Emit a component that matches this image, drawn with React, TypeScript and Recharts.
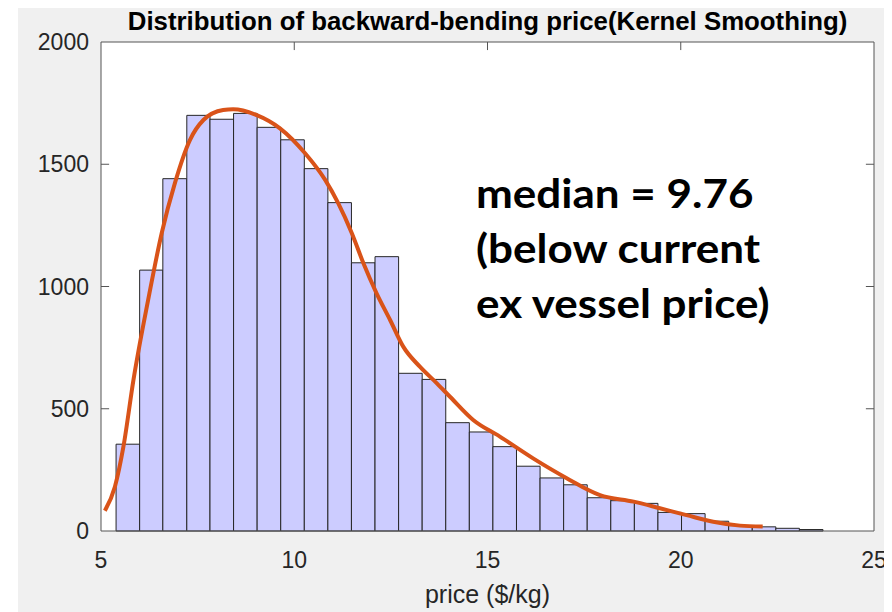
import React from "react";
import {
  ComposedChart, Line, XAxis, YAxis, ReferenceArea, ReferenceLine,
} from "recharts";

// histogram bin edges (price $/kg) and counts
const binEdges = [
  5.39, 6.0, 6.6, 7.22, 7.82, 8.43, 9.04, 9.65, 10.26, 10.87, 11.48, 12.09,
  12.7, 13.31, 13.92, 14.53, 15.14, 15.75, 16.36, 16.97, 17.58, 18.19, 18.8,
  19.41, 20.02, 20.63, 21.24, 21.85, 22.46, 23.07, 23.68,
];
const binCounts = [
  355, 1067, 1441, 1700, 1684, 1708, 1651, 1600, 1482, 1343, 1097, 1122,
  645, 620, 443, 405, 345, 265, 217, 189, 136, 124, 113, 76, 71, 40, 22, 17, 11, 6,
];

// kernel smoothing curve
const kdeX = [
  5.1, 5.36, 5.58, 5.84, 6.22, 6.57, 6.91, 7.3, 7.65, 8.16, 8.42, 9.03, 9.63,
  10.28, 10.8, 11.14, 11.49, 11.79, 12.13, 12.48, 12.82, 13.25, 13.69, 14.03,
  14.63, 15.32, 16.18, 17.05, 17.91, 18.78, 19.46, 20.15, 20.84, 21.53, 22.12,
];
const kdeY = [
  83, 181, 345, 618, 945, 1218, 1422, 1599, 1681, 1722, 1725, 1701, 1647,
  1545, 1436, 1340, 1218, 1095, 972, 863, 754, 672, 604, 549,
  454, 386, 297, 216, 147, 120, 93, 65, 38, 22, 18,
];

const xTicks = [5, 10, 15, 20, 25];
const yTicks = [0, 500, 1000, 1500, 2000];
const innerXTicks = [10, 15, 20];
const innerYTicks = [500, 1000, 1500];

const noteLines = ["median = 9.76", "(below current", "ex vessel price)"];

const X_MIN = 5, X_MAX = 25, Y_MIN = 0, Y_MAX = 2000;
// inward tick length in data units (~8px)
const TICK_DX = 0.21;
const TICK_DY = 33;

const AXIS = "#555555";
const TICK_TEXT = "#262626";
const FONT = "'Liberation Sans', Arial, sans-serif";

export default function App() {
  const kde = kdeX.map((x, i) => ({ x, y: kdeY[i] }));

  return (
    <div
      style={{
        position: "relative",
        width: 892,
        height: 612,
        margin: "-8px 0 0 -8px",
        background: "#f0f0f0",
        overflow: "hidden",
        fontFamily: FONT,
      }}
    >
      <div style={{ position: "absolute", left: 4, top: 0, width: 14, height: 612, background: "#fff" }} />
      {/* white plot box behind the transparent svg */}
      <div style={{ position: "absolute", left: 101, top: 42, width: 773, height: 489, background: "#fff" }} />

      <div style={{ position: "absolute", left: 0, top: 0 }}>
        <ComposedChart width={892} height={612} margin={{ top: 42, right: 18, bottom: 51, left: 41 }}>
          <XAxis
            type="number"
            dataKey="x"
            domain={[X_MIN, X_MAX]}
            ticks={xTicks}
            allowDataOverflow
            height={30}
            stroke={AXIS}
            tickLine={false}
            tickMargin={15}
            tick={{ fontSize: 23, fill: TICK_TEXT, fontFamily: FONT }}
          />
          <YAxis
            type="number"
            domain={[Y_MIN, Y_MAX]}
            ticks={yTicks}
            width={60}
            stroke={AXIS}
            tickLine={false}
            tickMargin={6}
            tick={{ fontSize: 23, fill: TICK_TEXT, fontFamily: FONT }}
          />

          {binCounts.map((c, i) => (
            <ReferenceArea
              key={i}
              x1={binEdges[i]}
              x2={binEdges[i + 1]}
              y1={0}
              y2={c}
              fill="#ccccff"
              fillOpacity={1}
              stroke="#262626"
              strokeWidth={1}
            />
          ))}

          {/* box: top and right edges */}
          <ReferenceLine y={Y_MAX} stroke={AXIS} strokeWidth={1} />
          <ReferenceLine x={X_MAX} stroke={AXIS} strokeWidth={1} />

          {/* inward tick marks */}
          {innerYTicks.map((v) => (
            <ReferenceLine key={"l" + v} segment={[{ x: X_MIN, y: v }, { x: X_MIN + TICK_DX, y: v }]} stroke={AXIS} />
          ))}
          {innerYTicks.map((v) => (
            <ReferenceLine key={"r" + v} segment={[{ x: X_MAX - TICK_DX, y: v }, { x: X_MAX, y: v }]} stroke={AXIS} />
          ))}
          {innerXTicks.map((v) => (
            <ReferenceLine key={"t" + v} segment={[{ x: v, y: Y_MAX - TICK_DY }, { x: v, y: Y_MAX }]} stroke={AXIS} />
          ))}

          <Line
            data={kde}
            type="monotone"
            dataKey="y"
            stroke="#D95319"
            strokeWidth={4}
            dot={false}
            activeDot={false}
            isAnimationActive={false}
          />
        </ComposedChart>
      </div>

      <div
        style={{
          position: "absolute",
          left: 101,
          width: 773,
          top: 7,
          textAlign: "center",
          fontSize: 25.8,
          fontWeight: "bold",
          color: "#000",
          whiteSpace: "nowrap",
        }}
      >
        Distribution of backward-bending price(Kernel Smoothing)
      </div>

      <div
        style={{
          position: "absolute",
          left: 101,
          width: 773,
          top: 580,
          textAlign: "center",
          fontSize: 25,
          color: TICK_TEXT,
        }}
      >
        price ($/kg)
      </div>

      <div
        style={{
          position: "absolute",
          left: 476,
          top: 166,
          fontFamily: "Lato, sans-serif",
          fontWeight: "bold",
          fontSize: 40,
          lineHeight: "55px",
          color: "#000",
          transformOrigin: "0 0",
          transform: "scaleX(1.1)",
          whiteSpace: "nowrap",
        }}
      >
        {noteLines.map((l) => (
          <div key={l}>{l}</div>
        ))}
      </div>
    </div>
  );
}
